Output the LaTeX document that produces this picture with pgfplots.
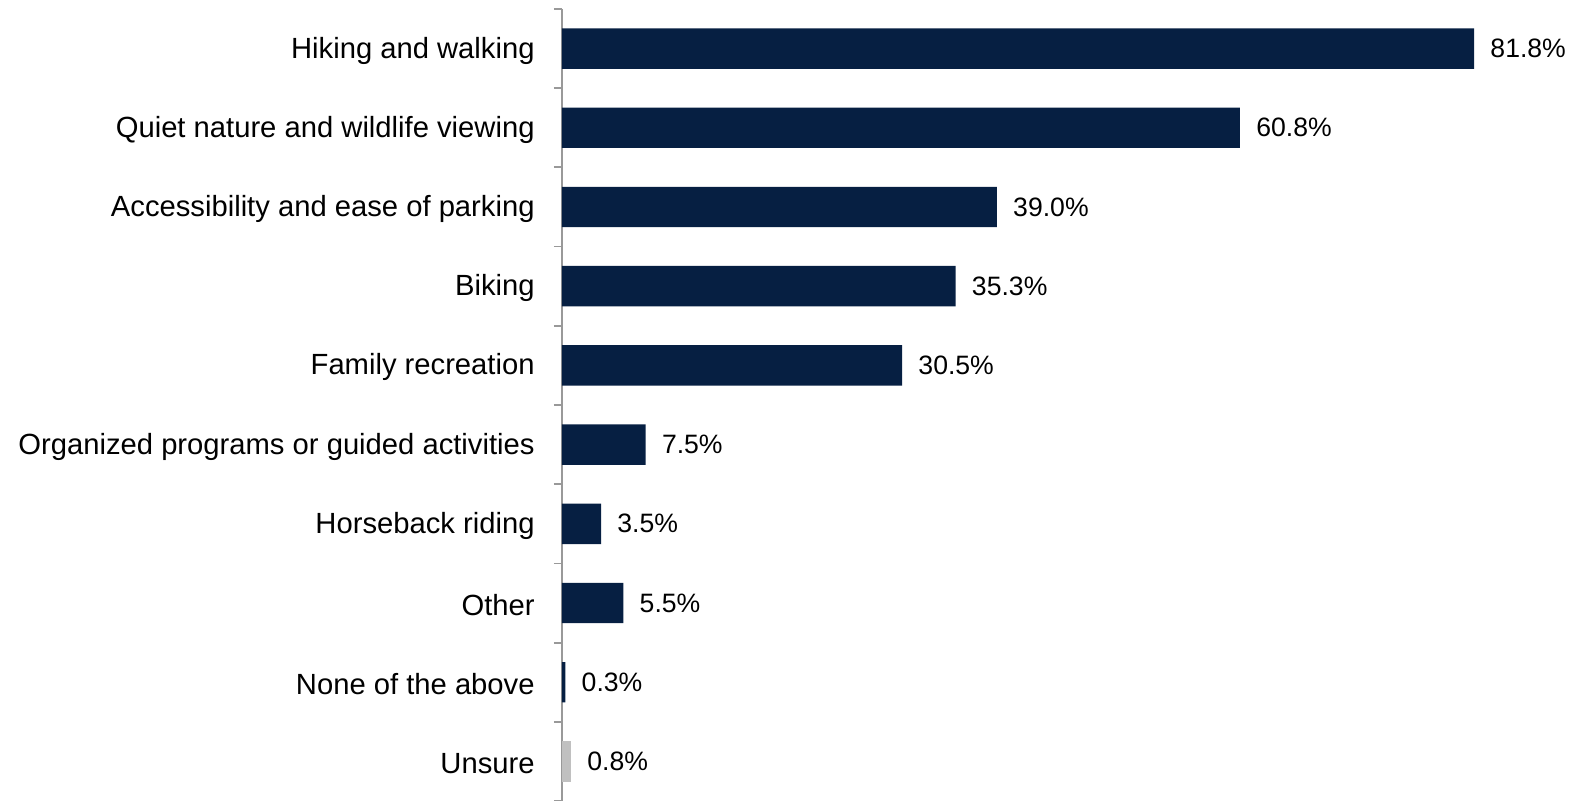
\documentclass[border=0pt]{standalone}
\usepackage{pgfplots}
\pgfplotsset{compat=1.18}
\usepackage{fontspec}
\setmainfont{Liberation Sans}
\definecolor{navy}{HTML}{061F42}
\definecolor{unsure}{HTML}{C0C0C0}
\definecolor{axisgray}{HTML}{999999}
\begin{document}
\begin{tikzpicture}
\useasboundingbox (0,0) rectangle (790pt,400.5pt);
\begin{axis}[
  at={(281pt,0pt)}, anchor=south west,
  scale only axis,
  width=501.75pt, height=396pt,
  xmin=0, xmax=90,
  ymin=-0.5, ymax=9.5,
  y dir=reverse,
  xbar, bar width=20.2pt, bar shift=0pt,
  axis x line=none,
  axis y line*=left,
  axis line style={draw=axisgray, line width=0.9pt},
  ytick={0,...,9},
  yticklabels={Hiking and walking, Quiet nature and wildlife viewing, Accessibility and ease of parking, Biking, Family recreation, Organized programs or guided activities, Horseback riding, Other, None of the above, Unsure},
  major tick length=0pt,
  minor ytick={-0.5,0.5,...,9.5},
  minor tick length=4pt,
  tick align=outside,
  minor tick style={draw=axisgray, line width=0.9pt},
  yticklabel style={font=\fontsize{14.6}{16}\selectfont, inner sep=0pt, xshift=-13.5pt, yshift=-1pt},
  nodes near coords={\pgfmathprintnumber[fixed,precision=1,fixed zerofill]{\pgfplotspointmeta}\%},
  nodes near coords style={font=\fontsize{13.3}{15}\selectfont, anchor=west, inner sep=0pt, xshift=8pt, text=black},
  /pgf/number format/assume math mode=true,
  clip=false,
]
\addplot[fill=navy, draw=none] coordinates {
  (81.8,0) (60.8,1) (39.0,2) (35.3,3) (30.5,4) (7.5,5) (3.5,6) (5.5,7) (0.3,8)
};
\addplot[fill=unsure, draw=none] coordinates {(0.8,9)};
\end{axis}
\end{tikzpicture}
\end{document}
